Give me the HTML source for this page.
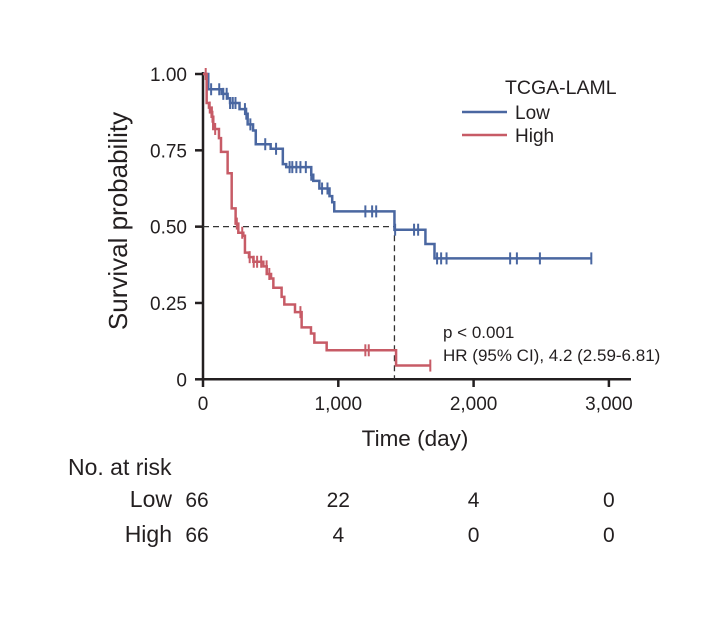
<!DOCTYPE html>
<html><head><meta charset="utf-8"><style>
body{margin:0;background:#fff}
svg text{font-family:"Liberation Sans Narrow","Liberation Sans",sans-serif;fill:#231f20}
</style></head><body>
<svg width="723" height="613" xmlns="http://www.w3.org/2000/svg">
<g id="axes"></g><g id="plot"></g>
</svg>
<script>
const xTicks=[0,1000,2000,3000];
const xTickLabels=["0","1,000","2,000","3,000"];
const yTicks=[0,0.25,0.5,0.75,1];
const yTickLabels=["0","0.25","0.50","0.75","1.00"];
const lowTimes=[0,39,138,182,200,270,315,330,370,390,500,590,615,800,815,860,935,955,970,1415,1644,1711,2870];
const lowSurv=[1,0.95,0.935,0.92,0.905,0.885,0.87,0.835,0.815,0.77,0.755,0.705,0.695,0.67,0.65,0.625,0.6,0.58,0.55,0.49,0.443,0.396,0.396];
const lowCensor=[60,120,150,175,200,220,240,310,320,350,460,540,640,660,690,720,760,800,880,920,1200,1250,1280,1420,1560,1590,1730,1760,1800,2270,2320,2490,2870];
const highTimes=[0,27,44,64,76,118,133,182,212,241,261,298,310,340,372,446,471,503,520,581,601,680,729,798,823,914,1427,1678];
const highSurv=[1,0.905,0.89,0.86,0.82,0.79,0.745,0.675,0.56,0.51,0.48,0.47,0.415,0.4,0.385,0.37,0.345,0.33,0.3,0.27,0.245,0.22,0.17,0.15,0.12,0.095,0.045,0.045];
const highCensor=[20,50,70,90,250,290,345,375,400,430,470,490,720,1200,1225,1680];
const riskGroups=["Low","High"];
const riskLow=[66,22,4,0];
const riskHigh=[66,4,0,0];
const NS="http://www.w3.org/2000/svg";
const X=t=>203+t*0.1353, Y=s=>379.3-s*305.3;
function mk(tag,attrs,parent,txt){const e=document.createElementNS(NS,tag);for(const k in attrs)e.setAttribute(k,attrs[k]);if(txt!=null)e.textContent=txt;parent.appendChild(e);return e;}
const ax=document.getElementById('axes'), pl=document.getElementById('plot');
let e=mk('line',{x1:203,y1:72,x2:203,y2:380,stroke:'#231f20','stroke-width':2.5},ax);


e=mk('line',{x1:202,y1:379.3,x2:631,y2:379.3,stroke:'#231f20','stroke-width':2.5},ax);


yTicks.forEach((v,i)=>{mk('line',{x1:195,x2:203,y1:Y(v),y2:Y(v),stroke:'#231f20','stroke-width':2.5},ax);
 const t=mk('text',{x:187,y:Y(v)+7,'text-anchor':'end','font-size':19},ax,yTickLabels[i]);
 
 });
xTicks.forEach((v,i)=>{mk('line',{x1:X(v),x2:X(v),y1:379,y2:387,stroke:'#231f20','stroke-width':2.5},ax);
 const t=mk('text',{x:X(v),y:410,'text-anchor':'middle','font-size':19},ax,xTickLabels[i]);
 
 });
e=mk('text',{x:415,y:446,'text-anchor':'middle','font-size':22.5},ax,'Time (day)');


e=mk('text',{x:127,y:221,'text-anchor':'middle','font-size':26,transform:'rotate(-90 127 221)'},ax,'Survival probability');


// median lines
mk('path',{d:`M203 ${Y(0.5)} H${X(1415)} V379`,stroke:'#333','stroke-width':1.3,fill:'none','stroke-dasharray':'6 4'},pl);
function curve(ts,ss,cens,col,name){
 let d=`M${X(ts[0])} ${Y(ss[0])}`;
 for(let i=1;i<ts.length;i++){d+=` H${X(ts[i])} V${Y(ss[i])}`;}
 const p=mk('path',{d,stroke:col,'stroke-width':2.5,fill:'none'},pl);
 
 
 cens.forEach(c=>{let s=ss[0];for(let i=0;i<ts.length;i++){if(ts[i]<=c)s=ss[i];}
  const m=mk('line',{x1:X(c),x2:X(c),y1:Y(s)-6,y2:Y(s)+6,stroke:col,'stroke-width':2},pl);
  
  });
}
curve(lowTimes,lowSurv,lowCensor,'#4a67a1','low');
curve(highTimes,highSurv,highCensor,'#c75b66','high');
// legend
e=mk('text',{x:505,y:94,'font-size':19.5},pl,'TCGA-LAML');


[['Low','#4a67a1',112],['High','#c75b66',135]].forEach(([l,c,y])=>{
 const g=mk('g',{},pl);
 
 
 mk('line',{x1:462,x2:507,y1:y,y2:y,stroke:c,'stroke-width':2.5},g);
 mk('text',{x:515,y:y+7,'font-size':19},g,l);});
e=mk('text',{x:443,y:338,'font-size':17},pl,'p < 0.001');


e=mk('text',{x:443,y:361,'font-size':17},pl,'HR (95% CI), 4.2 (2.59-6.81)');


// risk table
e=mk('text',{x:68,y:475,'font-size':23},pl,'No. at risk');


[[riskLow,507],[riskHigh,542]].forEach(([arr,y],gi)=>{
 const lab=mk('text',{x:172,y:y,'text-anchor':'end','font-size':23},pl,riskGroups[gi]);
 
 
 arr.forEach((n,i)=>{const t=mk('text',{x:i==0?X(0)-6:X(xTicks[i]),y:y,'text-anchor':'middle','font-size':21},pl,String(n));
  
  });
});
</script>
</body></html>
